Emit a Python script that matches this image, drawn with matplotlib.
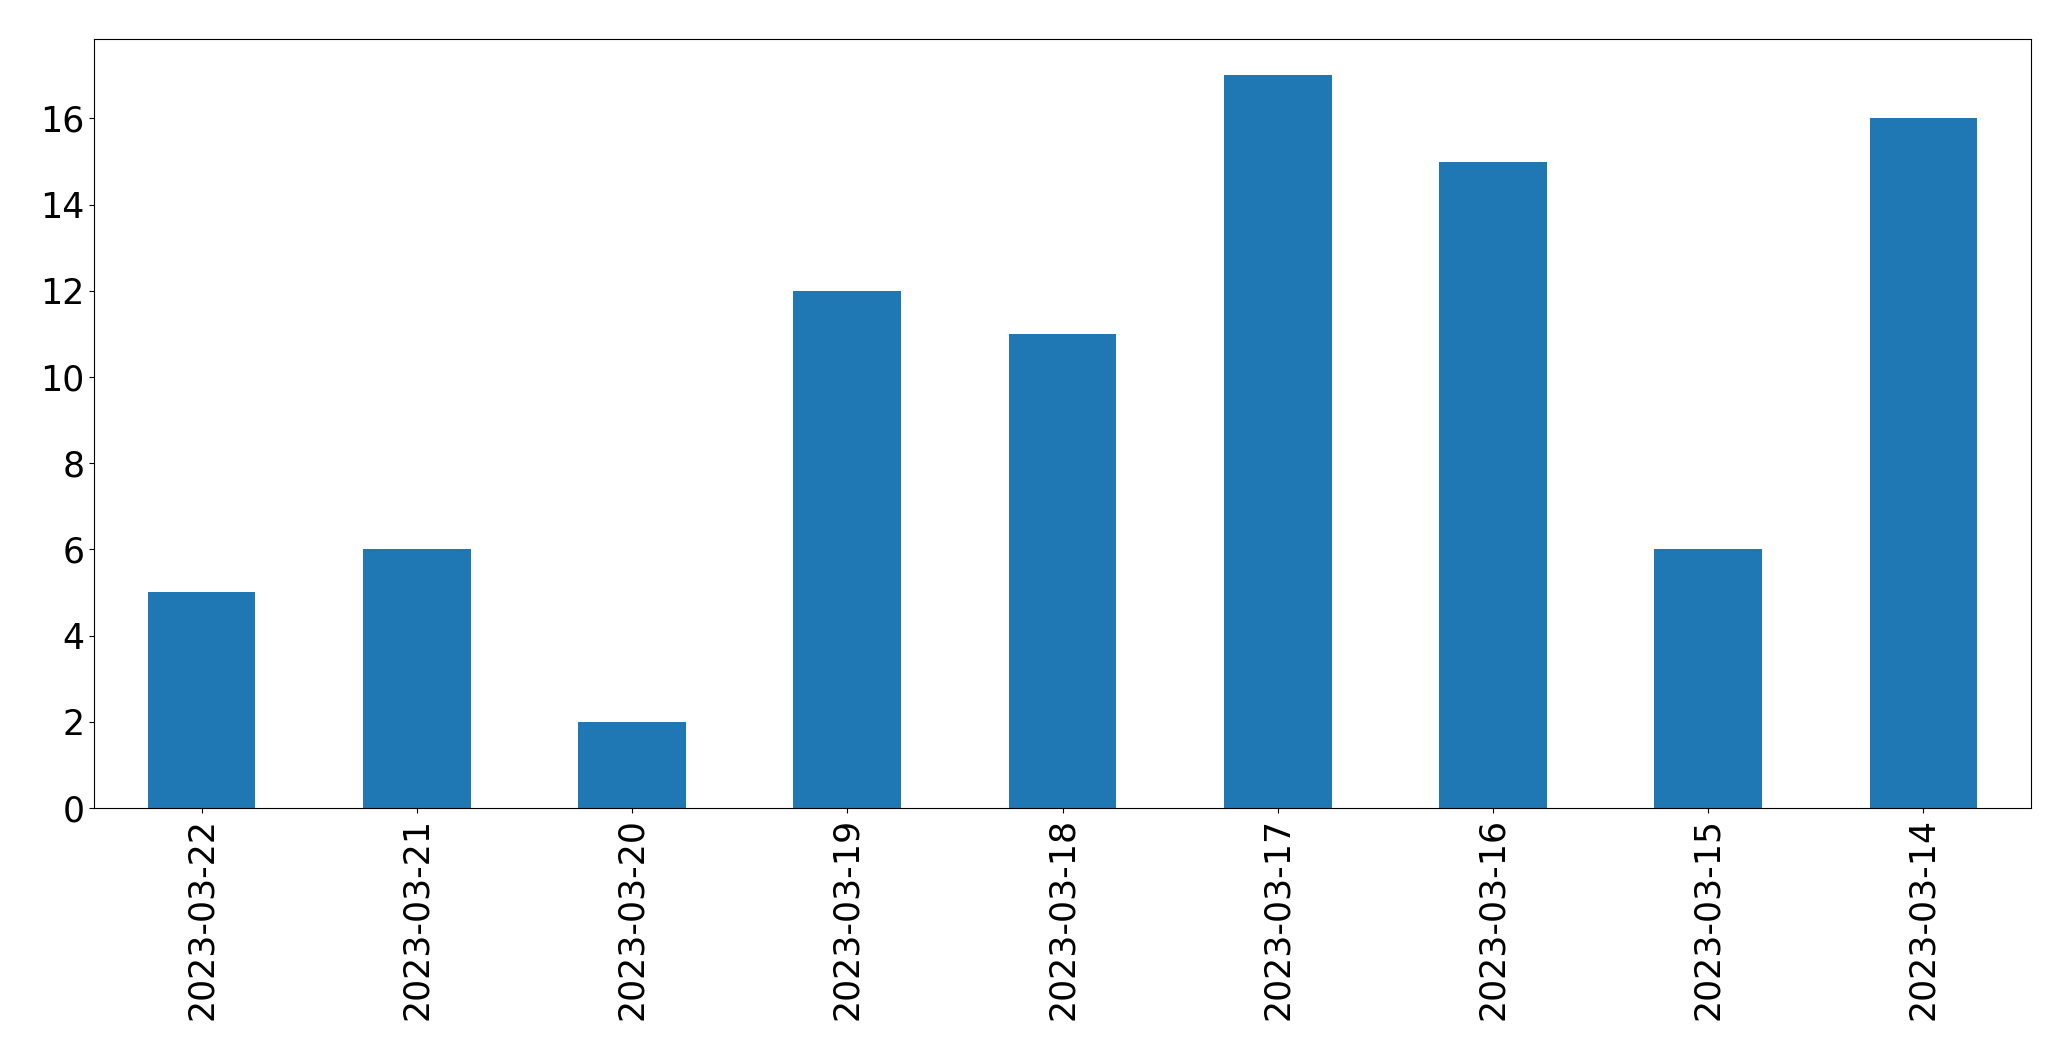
import matplotlib
matplotlib.use("Agg")
import matplotlib.pyplot as plt
import numpy as np

dates = ["2023-03-22", "2023-03-21", "2023-03-20", "2023-03-19", "2023-03-18",
         "2023-03-17", "2023-03-16", "2023-03-15", "2023-03-14"]
counts = [5, 6, 2, 12, 11, 17, 15, 6, 16]

fig = plt.figure(figsize=(20.71, 10.61), dpi=100)
ax = fig.add_subplot(111)
fig.subplots_adjust(left=0.0454, right=0.9807, top=0.9635, bottom=0.2385)
x = np.arange(len(dates))
ax.bar(x, counts, width=0.5, color="#1f77b4")
ax.set_xlim(-0.5, len(dates) - 0.5)
ax.set_ylim(0, max(counts) * 1.05)
ax.set_xticks(x)
ax.set_xticklabels(dates, rotation=90)
ax.tick_params(axis="both", labelsize=25)
fig.savefig("out.png", dpi=100)
